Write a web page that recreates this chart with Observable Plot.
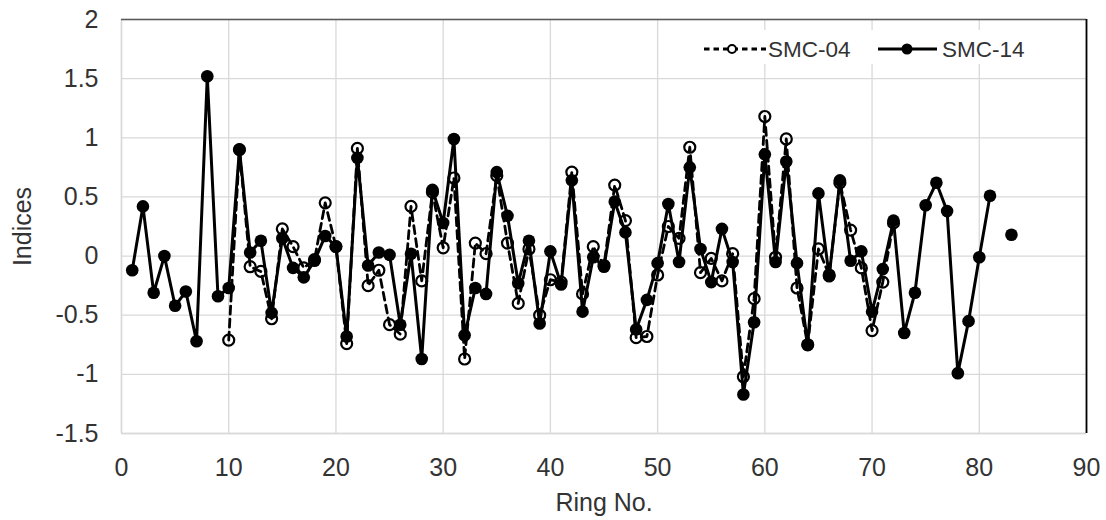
<!DOCTYPE html>
<html>
<head>
<meta charset="utf-8">
<script src="https://cdn.jsdelivr.net/npm/d3@7"></script>
<script src="https://cdn.jsdelivr.net/npm/@observablehq/plot@0.6"></script>
<style>
  html, body { margin: 0; padding: 0; background: #fff; }
  #wrap { position: relative; width: 1106px; height: 520px; }
  #legend { position: absolute; left: 697px; top: 30px; width: 340px; height: 34px; background: #fff; }
  #legend svg { position: absolute; left: 0; top: 0; }
</style>
</head>
<body>
<div id="wrap"></div>
<script>
// Ring numbers and series values
const ringsSMC14 = d3.range(1, 84);
const valuesSMC14 = [
  -0.12, 0.42, -0.31, 0.00, -0.42, -0.30, -0.72, 1.52, -0.34, -0.27,
   0.90, 0.03, 0.13, -0.48, 0.15, -0.10, -0.18, -0.04, 0.17, 0.08,
  -0.68, 0.83, -0.08, 0.03, 0.01, -0.58, 0.02, -0.87, 0.56, 0.28,
   0.99, -0.67, -0.27, -0.32, 0.71, 0.34, -0.23, 0.13, -0.57, 0.04,
  -0.24, 0.64, -0.47, -0.01, -0.09, 0.46, 0.20, -0.62, -0.37, -0.06,
   0.44, -0.05, 0.75, 0.06, -0.22, 0.23, -0.05, -1.17, -0.56, 0.86,
  -0.05, 0.80, -0.06, -0.75, 0.53, -0.17, 0.64, -0.04, 0.04, -0.47,
  -0.11, 0.30, -0.65, -0.31, 0.43, 0.62, 0.38, -0.99, -0.55, -0.01,
   0.51, null, 0.18
];
const ringsSMC04 = d3.range(10, 73);
const valuesSMC04 = [
  -0.71, 0.90, -0.09, -0.13, -0.53, 0.23, 0.08, -0.10, -0.03, 0.45,
   0.08, -0.74, 0.91, -0.25, -0.12, -0.58, -0.66, 0.42, -0.21, 0.54,
   0.07, 0.66, -0.87, 0.11, 0.02, 0.68, 0.11, -0.40, 0.06, -0.50,
  -0.20, -0.22, 0.71, -0.32, 0.08, -0.08, 0.60, 0.30, -0.69, -0.68,
  -0.16, 0.25, 0.15, 0.92, -0.14, -0.02, -0.21, 0.02, -1.02, -0.36,
   1.18, -0.01, 0.99, -0.27, -0.75, 0.06, -0.16, 0.62, 0.22, -0.10,
  -0.63, -0.22, 0.28
];
const xTicks = [0, 10, 20, 30, 40, 50, 60, 70, 80, 90];
const yTicks = [-1.5, -1, -0.5, 0, 0.5, 1, 1.5, 2];
const seriesNames = ["SMC-04", "SMC-14"];

const smc14 = ringsSMC14.map((r, i) => ({ring: r, v: valuesSMC14[i]}));
const smc04 = ringsSMC04.map((r, i) => ({ring: r, v: valuesSMC04[i]}));

const FONT = "Liberation Sans, Arial, sans-serif";
const chart = Plot.plot({
  width: 1106,
  height: 520,
  marginLeft: 121,
  marginRight: 20,
  marginTop: 19,
  marginBottom: 87,
  style: {fontFamily: FONT, fontSize: "25px", color: "#333", background: "#fff"},
  x: {domain: [0, 90]},
  y: {domain: [-1.5, 2]},
  marks: [
    Plot.gridX(xTicks, {stroke: "#d9d9d9", strokeOpacity: 1, strokeWidth: 1.3}),
    Plot.gridY(yTicks, {stroke: "#d9d9d9", strokeOpacity: 1, strokeWidth: 1.3}),
    Plot.ruleX([0], {stroke: "#d9d9d9", strokeWidth: 1.5}),
    Plot.ruleY([-1.5], {stroke: "#d9d9d9", strokeWidth: 1.5}),
    Plot.ruleY([2], {stroke: "#595959", strokeWidth: 1.5}),
    Plot.ruleX([90], {stroke: "#000", strokeWidth: 1.8}),
    Plot.axisX({ticks: xTicks, tickSize: 0, tickPadding: 25, fontSize: 25,
      label: "Ring No.", labelAnchor: "center", labelArrow: "none", labelOffset: 77}),
    Plot.axisY({ticks: yTicks, tickSize: 0, tickPadding: 23, fontSize: 25, tickFormat: d => String(d),
      label: "Indices", labelAnchor: "center", labelArrow: "none", labelOffset: 108}),
    Plot.line(smc04, {x: "ring", y: "v", stroke: "#000", strokeWidth: 2.8, strokeDasharray: "8,5"}),
    Plot.dot(smc04, {x: "ring", y: "v", r: 5.5, stroke: "#000", strokeWidth: 2.2, fill: "none"}),
    Plot.line(smc14, {x: "ring", y: "v", stroke: "#000", strokeWidth: 3}),
    Plot.dot(smc14, {x: "ring", y: "v", r: 6.3, fill: "#000", stroke: "none"})
  ]
});
const wrap = document.getElementById("wrap");
wrap.appendChild(chart);

// legend overlay
const leg = document.createElement("div");
leg.id = "legend";
leg.innerHTML = `
<svg width="340" height="34">
  <line x1="7" y1="19" x2="69" y2="19" stroke="#000" stroke-width="2.8" stroke-dasharray="5.5,4"/>
  <circle cx="35" cy="19" r="4" fill="#fff" stroke="#000" stroke-width="2"/>
  <line x1="181" y1="19" x2="240" y2="19" stroke="#000" stroke-width="3"/>
  <circle cx="210" cy="19" r="5.5" fill="#000"/>
  <text x="71" y="27" font-size="22.5" fill="#333" font-family="${FONT}">${seriesNames[0]}</text>
  <text x="245" y="27" font-size="22.5" fill="#333" font-family="${FONT}">${seriesNames[1]}</text>
</svg>`;
wrap.appendChild(leg);
</script>
</body>
</html>
